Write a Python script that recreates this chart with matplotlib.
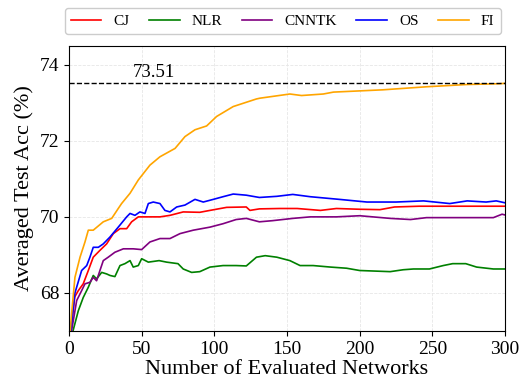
import numpy as np
import matplotlib
matplotlib.use('Agg')
import matplotlib.pyplot as plt

# values
cj_x = [0, 4, 6.4, 9.8, 13.3, 16.7, 21.3, 25.9, 30.5, 35.1, 39.7, 43.1, 47.7, 55.7, 62.6, 69.5,
        78.6, 90, 97, 108.5, 122, 124.5, 131, 145, 157, 173, 184, 200, 214, 224, 241, 262, 283, 300]
cj_y = [66.6, 67.9, 68.06, 68.24, 68.59, 68.94, 69.12, 69.29, 69.56, 69.69, 69.69, 69.87, 70.0, 70.0, 70.0, 70.04,
        70.13, 70.12, 70.17, 70.25, 70.26, 70.17, 70.21, 70.22, 70.22, 70.17, 70.22, 70.2, 70.19, 70.26, 70.28, 70.28, 70.28, 70.28]

nlr_x = [0, 6.4, 9.8, 13.3, 16.7, 19, 22.5, 25.9, 28.2, 31.6, 35.1, 38.5, 42, 44.2, 47.7, 50, 54.6, 62, 67.2,
         75, 78.6, 84.4, 90, 97, 106, 115, 122, 129, 135, 143, 152, 159, 168, 180, 191, 200, 214, 221,
         230, 237, 248, 257.5, 264, 273, 280.5, 292, 300]
nlr_y = [66.6, 67.53, 67.88, 68.15, 68.46, 68.37, 68.54, 68.5, 68.46, 68.43, 68.72, 68.77, 68.85, 68.68, 68.72, 68.9, 68.81, 68.85, 68.81,
         68.77, 68.63, 68.54, 68.56, 68.68, 68.72, 68.72, 68.71, 68.94, 68.98, 68.94, 68.85, 68.72, 68.72, 68.68, 68.65, 68.59, 68.57, 68.56,
         68.61, 68.63, 68.63, 68.72, 68.77, 68.77, 68.68, 68.63, 68.63]

cnntk_x = [0, 5.3, 8.7, 11, 14.4, 16.7, 19, 21.3, 23.6, 27, 31.6, 37.4, 44.2, 50, 55.7, 62.6, 69.5, 76.4,
           85.5, 97, 106, 115, 122, 131, 140, 154, 166, 184, 200, 209, 221, 235, 246, 271, 292, 298, 300]
cnntk_y = [66.6, 67.8, 68.06, 68.24, 68.28, 68.41, 68.32, 68.59, 68.85, 68.94, 69.07, 69.16, 69.16, 69.14, 69.34, 69.43, 69.43, 69.56,
           69.65, 69.73, 69.82, 69.93, 69.96, 69.87, 69.9, 69.96, 70.0, 70.0, 70.03, 70.0, 69.96, 69.93, 69.98, 69.98, 69.98, 70.07, 70.05]

os_x = [0, 4.1, 8.7, 12.2, 14.4, 16.7, 20.2, 23.6, 28.2, 33.9, 39.7, 42, 45.4, 48.8, 52.3, 54.6, 58, 62.6,
        66, 69.5, 74.1, 79.8, 86.7, 92.4, 99.3, 106, 113, 122, 131, 143, 154, 166, 186, 205, 225, 244,
        262, 274, 287, 294, 300]
os_y = [66.6, 68.0, 68.59, 68.72, 68.94, 69.2, 69.2, 69.29, 69.47, 69.73, 70.0, 70.09, 70.04, 70.13, 70.09, 70.35, 70.39, 70.35,
        70.17, 70.13, 70.26, 70.31, 70.46, 70.39, 70.46, 70.53, 70.6, 70.57, 70.51, 70.54, 70.59, 70.53, 70.46, 70.39, 70.39, 70.42,
        70.35, 70.42, 70.39, 70.42, 70.37]

fi_x = [0, 1.8, 4.1, 7.6, 11, 13.3, 16.7, 23.6, 29.4, 33.9, 36.2, 42, 47.7, 55.7, 62.6, 73, 79.8, 86.7,
        94.7, 101.6, 113, 129, 131.4, 152, 160, 175, 182, 216, 246, 274, 296, 300]
fi_y = [66.6, 67.45, 68.41, 68.94, 69.34, 69.65, 69.65, 69.87, 69.96, 70.22, 70.35, 70.62, 70.97, 71.36, 71.58, 71.8, 72.11, 72.29,
        72.39, 72.64, 72.9, 73.1, 73.12, 73.23, 73.19, 73.23, 73.28, 73.34, 73.42, 73.48, 73.5, 73.51]

best = 73.51

plt.rcParams['font.family'] = ['Liberation Serif', 'DejaVu Serif']

fig = plt.figure(figsize=(5.29, 3.83), dpi=100)
ax = fig.add_axes([0.1304, 0.1358, 0.8242, 0.7449])

ax.plot(cj_x, cj_y, c='red', lw=1.2, label='CJ')
ax.plot(nlr_x, nlr_y, c='green', lw=1.2, label='NLR')
ax.plot(cnntk_x, cnntk_y, c='purple', lw=1.2, label='CNNTK')
ax.plot(os_x, os_y, c='blue', lw=1.2, label='OS')
ax.plot(fi_x, fi_y, c='orange', lw=1.2, label='FI')

ax.axhline(best, c='black', ls='--', lw=1)
ax.text(44, best + 0.05, '%.2f' % best, fontsize=13.5, va='bottom')

ax.set_xlim(0, 300)
ax.set_ylim(67, 74.5)
ax.set_xticks([0, 50, 100, 150, 200, 250, 300])
ax.set_yticks([68, 70, 72, 74])
ax.tick_params(labelsize=14)
ax.grid(True, color='#e6e6e6', ls='--', lw=0.6)

ax.set_xlabel('Number of Evaluated Networks', fontsize=16, labelpad=2)
ax.set_ylabel('Averaged Test Acc (%)', fontsize=16, labelpad=4)

ax.legend(ncol=5, loc='lower left', bbox_to_anchor=(-0.01, 1.04, 1.0, 0.1), mode='expand',
          borderaxespad=0, fontsize=11, framealpha=1, edgecolor='#cccccc')

fig.savefig('out.png', dpi=100)
